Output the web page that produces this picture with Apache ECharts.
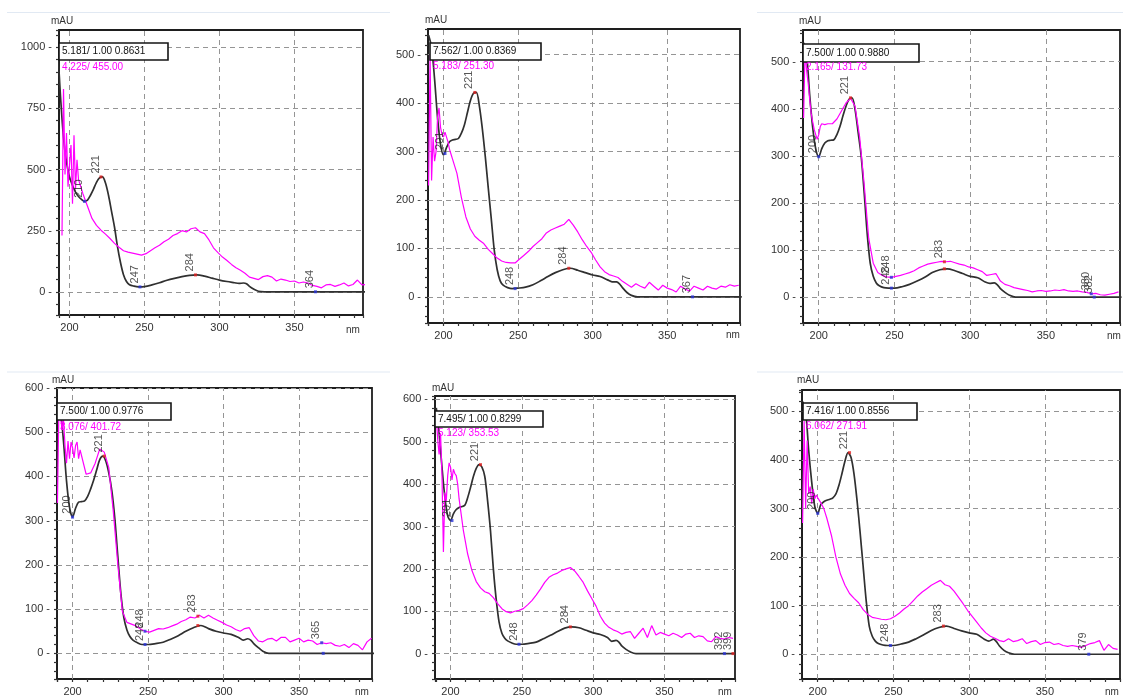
<!DOCTYPE html>
<html><head><meta charset="utf-8">
<script src="https://cdn.jsdelivr.net/npm/echarts@6/dist/echarts.min.js"></script>
<style>html,body{margin:0;padding:0;background:#fff}#c{width:1123px;height:697px}</style>
</head><body><div id="c"></div>
<script>
// ---------- DATA ----------
const blackWL = [190,192,194,196,198,200,202,204,206,208,210,212,214,216,218,220,222,224,226,228,230,232,234,236,238,240,243,246,250,255,260,265,270,275,280,285,290,295,300,305,310,313,316,318,320,323,326,330,340,360,380,400];
const black1 = [1100,1000,800,630,530,470,435,408,390,378,370,375,395,420,448,466,470,445,395,330,265,185,120,70,42,29,23,20,21,28,37,47,55,62,67,69,64,56,48,42,37,34,36,33,22,10,2,0,0,0,0,0];
const black2 = [540,515,450,370,315,293,308,320,324,325,327,338,355,380,405,420,422,395,348,290,225,162,97,56,33,24,19,17,18,20,25,33,42,50,56,59,55,50,45,42,35,31,31,27,19,9,3,0,0,0,0,0];
const black3 = [540,514,430,360,315,298,315,327,332,333,334,345,362,385,405,420,423,398,350,300,222,135,72,44,30,24,20,19,19,22,27,34,42,52,58,60,56,50,44,41,32,29,30,26,18,10,4,0,0,0,0,0];
const black4 = [560,545,480,390,330,308,328,342,343,345,355,372,392,415,438,446,435,408,368,305,218,135,80,53,38,30,24,20,20,22,25,32,40,50,58,63,56,50,46,43,36,30,33,30,22,13,5,0,0,0,0,0];
const black5 = [580,520,440,370,325,314,330,340,345,347,350,368,392,418,437,446,440,418,360,290,200,128,75,48,36,30,25,22,22,24,27,35,43,52,60,63,61,55,49,45,38,29,31,27,18,10,4,0,0,0,0,0];
const black6 = [520,500,420,355,305,290,308,314,317,319,322,330,348,372,398,415,405,370,315,250,180,110,58,37,27,22,19,18,18,21,25,32,40,49,55,58,53,48,44,41,31,27,31,26,17,8,3,0,0,0,0,0];

const magentaWL = [190,191,192,193,194,195,196,197,198,199,200,201,202,203,204,205,206,209,212,215,218,221,224,227,230,233,236,239,242,245,248,251,254,257,260,263,266,269,272,275,278,281,284,287,290,293,296,299,302,305,308,311,314,317,320,323,326,329,332,335,338,341,344,347,350,353,356,359,362,365,368,371,374,377,380,383,386,389,392,395,398];
const magenta1 = [null,null,null,null,null,230,830,480,650,430,520,600,360,640,420,540,460,
  400,350,300,272,252,236,218,198,182,168,
  162,158,154,150,156,168,180,190,205,215,
  230,238,250,245,258,262,245,238,212,180,
  160,142,128,112,98,88,76,60,55,50,
  62,66,60,44,52,48,42,44,36,40,
  36,26,22,16,28,30,22,28,36,24,
  30,48,28,30];
const magenta2 = [230,500,240,330,280,300,370,390,350,335,330,340,338,320,305,295,285,
  255,205,165,140,125,117,110,98,89,80,
  74,71,70,70,78,86,94,104,112,120,
  132,138,142,146,150,160,148,134,118,104,
  92,76,62,52,46,43,40,32,26,20,
  27,22,18,30,22,14,24,18,15,10,
  22,16,12,22,18,14,22,18,16,22,
  20,25,22,24];
const magenta3 = [380,530,480,455,420,390,372,356,345,335,345,362,368,372,366,362,368,
  368,378,395,412,422,405,340,240,125,72,
  52,46,43,42,44,46,49,52,56,62,
  66,70,72,74,76,75,76,73,70,68,
  64,62,58,54,46,48,50,34,27,24,
  20,18,16,14,11,13,14,12,13,15,
  14,16,13,12,13,11,10,7,8,5,
  4,6,8,11];
const magenta4 = [340,565,540,505,530,470,430,480,440,478,465,442,470,478,440,460,462,
  405,408,430,462,455,420,320,200,95,70,
  66,62,55,50,48,52,56,55,58,62,
  66,72,76,82,80,86,80,86,80,75,
  70,64,60,54,50,56,58,40,28,26,
  32,34,28,36,36,26,30,34,26,30,
  28,20,24,22,24,18,16,20,13,22,
  18,8,26,34];
const magenta5 = [560,505,470,520,420,240,380,360,420,450,440,410,435,425,420,400,365,
  290,235,196,170,155,146,142,132,118,106,
  99,96,100,102,106,115,125,138,152,168,
  180,186,190,196,200,203,195,182,168,148,
  130,112,88,72,62,56,52,46,50,52,
  36,48,60,38,66,44,50,46,42,48,
  44,38,46,48,38,42,40,30,28,40,
  36,34,38,36];
const magenta6 = [270,480,300,440,330,345,310,340,320,328,322,318,312,306,300,290,280,
  245,200,165,142,125,115,106,92,82,76,
  74,72,71,73,78,85,93,100,110,120,
  128,135,142,147,152,143,140,130,117,104,
  90,78,66,54,44,37,33,28,26,32,
  26,28,32,22,26,28,20,24,25,20,
  22,18,16,18,16,14,18,22,24,28,
  8,20,12,10];

// peak markers: [wavelength, value, label, kind]
const peaks1 = [[210,370,'210','min'],[221,470,'221','max'],[247,20,'247','min'],[284,69,'284','max'],[364,0,'364','min']];
const peaks2 = [[201,296,'201','min'],[221,422,'221','max'],[248,17,'248','min'],[284,59,'284','max'],[367,0,'367','min']];
const peaks3 = [[200,298,'200','min'],[221,423,'221','max'],[248,42,'248','min'],[248,19,'248','min'],[283,75,'283','max'],[283,60,'','max'],[380,7,'380','min'],[382,0,'382','min']];
const peaks4 = [[200,308,'200','min'],[221,446,'221','max'],[248,50,'248','min'],[248,20,'248','min'],[283,84,'283','max'],[283,63,'','max'],[365,24,'365','min'],[366,0,'','min']];
const peaks5 = [[201,314,'201','min'],[221,446,'221','max'],[248,22,'248','min'],[284,63,'284','max'],[392,0,'392','min'],[398,0,'399','max']];
const peaks6 = [[200,290,'200','min'],[221,415,'221','max'],[248,18,'248','min'],[283,58,'283','max'],[379,0,'379','min']];

const xTicks = [200,250,300,350];
const yTicks1 = [0,250,500,750,1000];
const yTicks2 = [0,100,200,300,400,500];
const yTicks3 = [0,100,200,300,400,500];
const yTicks4 = [0,100,200,300,400,500,600];
const yTicks5 = [0,100,200,300,400,500,600];
const yTicks6 = [0,100,200,300,400,500];

const header1 = ['5.181/ 1.00 0.8631','4.225/ 455.00'];
const header2 = ['7.562/ 1.00 0.8369','5.183/ 251.30'];
const header3 = ['7.500/ 1.00 0.9880','2.165/ 131.73'];
const header4 = ['7.500/ 1.00 0.9776','3.076/ 401.72'];
const header5 = ['7.495/ 1.00 0.8299','5.123/ 353.53'];
const header6 = ['7.416/ 1.00 0.8556','6.062/ 271.91'];

const yUnit = 'mAU';
const xUnit = 'nm';

// ---------- LAYOUT ----------
const layout = [
  {left:59, top:30, width:304, height:285, xr:[193,395.7], yr:[-95,1071], ySplit:23,
   box:[59,43,109,17], t2y:67, mau:[62,21], nm:[353,330]},
  {left:428, top:29, width:312, height:294, xr:[189.6,398.8], yr:[-54,553], ySplit:30,
   box:[430,43,111,17], t2y:66, mau:[436,20], nm:[733,335]},
  {left:803, top:30, width:321, height:293, xr:[189.6,399], yr:[-55,567], ySplit:30,
   box:[803,44,116,18], t2y:67, mau:[810,21], nm:[1114,336]},
  {left:57, top:388, width:315, height:295, xr:[189.7,398.3], yr:[-58,600], ySplit:30,
   box:[57,403,114,17], t2y:427, mau:[63,380], nm:[362,692]},
  {left:435, top:396, width:300, height:286, xr:[189.1,399.4], yr:[-60,608], ySplit:30,
   box:[435,411,108,16], t2y:433, mau:[443,388], nm:[725,692]},
  {left:802, top:390, width:322, height:292, xr:[189.6,399.6], yr:[-51,544], ySplit:30,
   box:[803,403,114,17], t2y:426, mau:[808,380], nm:[1112,692]}
];

const panels = [
  {black:black1, mag:magenta1, peaks:peaks1, yTicks:yTicks1, header:header1},
  {black:black2, mag:magenta2, peaks:peaks2, yTicks:yTicks2, header:header2},
  {black:black3, mag:magenta3, peaks:peaks3, yTicks:yTicks3, header:header3},
  {black:black4, mag:magenta4, peaks:peaks4, yTicks:yTicks4, header:header4},
  {black:black5, mag:magenta5, peaks:peaks5, yTicks:yTicks5, header:header5},
  {black:black6, mag:magenta6, peaks:peaks6, yTicks:yTicks6, header:header6}
];

const FONT = 'Liberation Sans, Arial, sans-serif';
const isTick = (v, arr) => arr.some(t => Math.abs(t - v) < 1e-6);

const option = {animation:false, backgroundColor:'#fff', grid:[], xAxis:[], yAxis:[], series:[], graphic:[]};

// faint frame lines of the source image
[[7,12.5,390,12.5],[757,12.5,1123,12.5],[7,372,390,372],[757,372,1123,372]].forEach(s => {
  option.graphic.push({type:'line', shape:{x1:s[0],y1:s[1],x2:s[2],y2:s[3]}, style:{stroke:'#e1e9f3', lineWidth:1}, silent:true});
});

layout.forEach((L, i) => {
  const D = panels[i];
  option.grid.push({left:L.left, top:L.top, width:L.width, height:L.height, show:true,
    borderColor:'#1e1e1e', borderWidth:1.8, backgroundColor:'transparent'});
  const axisCommon = {
    axisLine:{show:true, onZero:false, lineStyle:{color:'#1e1e1e', width:1.8}},
    axisTick:{show:true, inside:false, length:3, lineStyle:{color:'#333', width:1.2}},
    splitLine:{show:false}
  };
  option.xAxis.push(Object.assign({type:'value', gridIndex:i, min:L.xr[0], max:L.xr[1], splitNumber:20,
    axisLabel:{show:true, margin:7, fontSize:11, color:'#333', fontFamily:FONT,
      formatter: v => isTick(v, xTicks) ? String(Math.round(v)) : ''}}, axisCommon));
  option.yAxis.push(Object.assign({type:'value', gridIndex:i, min:L.yr[0], max:L.yr[1], splitNumber:L.ySplit,
    axisLabel:{show:true, margin:7, fontSize:11, color:'#333', fontFamily:FONT,
      formatter: v => isTick(v, D.yTicks) ? String(Math.round(v)) + ' -' : ''}}, axisCommon));

  // dashed grid lines at major ticks
  option.series.push({type:'line', xAxisIndex:i, yAxisIndex:i, data:[], silent:true,
    markLine:{silent:true, z:1, symbol:['none','none'], label:{show:false},
      lineStyle:{type:[5,4], color:'#959595', width:1},
      data: xTicks.map(v => ({xAxis:v})).concat(D.yTicks.map(v => ({yAxis:v})))}});

  option.series.push({type:'line', name:'ref'+i, xAxisIndex:i, yAxisIndex:i, z:3,
    data: blackWL.map((w,k) => [w, D.black[k]]), showSymbol:false, smooth:0.3,
    lineStyle:{color:'#303030', width:1.7}});
  option.series.push({type:'line', name:'spec'+i, xAxisIndex:i, yAxisIndex:i, z:4,
    data: magentaWL.map((w,k) => [w, D.mag[k]]), showSymbol:false, connectNulls:false,
    lineStyle:{color:'#ff00ff', width:1.2}});
  option.series.push({type:'scatter', xAxisIndex:i, yAxisIndex:i, z:6, symbol:'rect', symbolSize:3,
    data: D.peaks.map(p => ({value:[p[0],p[1]], name:p[2], itemStyle:{color: p[3]==='max' ? '#e02020' : '#2a35d8'}})),
    label:{show:true, formatter: p => p.name, rotate:90, position:'top', align:'left', verticalAlign:'bottom',
      distance:2, fontSize:11, color:'#2a2a2a', fontFamily:FONT}});

  // header box
  const b = L.box;
  option.graphic.push({type:'rect', z:100, shape:{x:b[0], y:b[1], width:b[2], height:b[3]},
    style:{fill:'#fff', stroke:'#151515', lineWidth:1.6}});
  option.graphic.push({type:'text', z:101, x:b[0]+3, y:b[1]+b[3]/2,
    style:{text:D.header[0], fill:'#111', font:'10px ' + FONT, align:'left', verticalAlign:'middle', textAlign:'left', textVerticalAlign:'middle'}});
  option.graphic.push({type:'text', z:101, x:b[0]+3, y:L.t2y,
    style:{text:D.header[1], fill:'#ff00ff', font:'10px ' + FONT, align:'left', verticalAlign:'middle', textAlign:'left', textVerticalAlign:'middle'}});
  option.graphic.push({type:'text', z:101, x:L.mau[0], y:L.mau[1],
    style:{text:yUnit, fill:'#333', font:'10px ' + FONT, align:'center', verticalAlign:'middle', textAlign:'center', textVerticalAlign:'middle'}});
  option.graphic.push({type:'text', z:101, x:L.nm[0], y:L.nm[1],
    style:{text:xUnit, fill:'#333', font:'10px ' + FONT, align:'center', verticalAlign:'middle', textAlign:'center', textVerticalAlign:'middle'}});
});

const chart = echarts.init(document.getElementById('c'), null, {renderer:'canvas'});
chart.setOption(option);
</script>
</body></html>
